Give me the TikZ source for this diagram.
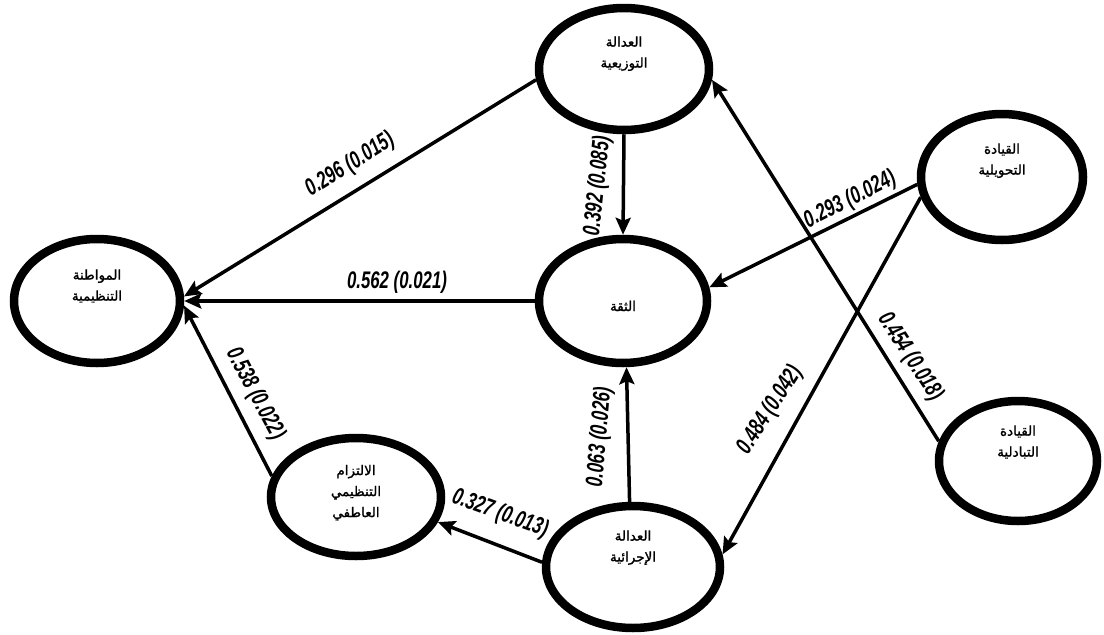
\documentclass[tikz,border=0pt]{standalone}
\usepackage{fontspec}
\setmainfont{Liberation Sans}
\newfontfamily\arabicfont[Script=Arabic,FakeBold=1.5]{DejaVu Sans}
\newfontfamily\numfont[FakeStretch=0.7]{Liberation Sans}
\TeXXeTstate=1
\usetikzlibrary{arrows.meta,shapes.geometric}
\newcommand{\ar}[1]{\beginR #1\endR}

\begin{document}
\begin{tikzpicture}[x=1pt,y=-1pt,
  construct/.style={ellipse,draw,line width=8.5pt,align=center,
    font=\arabicfont\fontsize{13.5}{21}\selectfont},
  link/.style={line width=3.5pt,-{Stealth[length=17pt,width=15pt,inset=3pt]}},
  coef/.style={font=\numfont\bfseries\itshape\fontsize{24}{24}\selectfont,inner sep=1pt}]
  \useasboundingbox (0,0) rectangle (1104,635);
  % constructs
  \node[construct,minimum width=170pt,minimum height=122pt,text depth=34pt] (tawzi) at (624,69) {\ar{العدالة}\\\ar{التوزيعية}};
  \node[construct,minimum width=168pt,minimum height=124pt,text height=24pt,text depth=4pt] (thiqa) at (623,301) {\ar{الثقة}};
  \node[construct,minimum width=166pt,minimum height=124pt,text depth=32pt] (muwatana) at (97,301) {\ar{المواطنة}\\\ar{التنظيمية}};
  \node[construct,minimum width=162pt,minimum height=126pt,text depth=36pt] (tahwili) at (1002,177) {\ar{القيادة}\\\ar{التحويلية}};
  \node[construct,minimum width=158pt,minimum height=120pt,text depth=40pt] (tabaduli) at (1018,461) {\ar{القيادة}\\\ar{التبادلية}};
  \node[construct,minimum width=174pt,minimum height=122pt,text depth=42pt] (ijrai) at (633,567) {\ar{العدالة}\\\ar{الإجرائية}};
  \node[construct,minimum width=170pt,minimum height=118pt,text depth=12pt] (iltizam) at (356,497) {\ar{الالتزام}\\\ar{التنظيمي}\\\ar{العاطفي}};
  % paths
  \draw[link] (tawzi.187) -- (muwatana.3);
  \draw[link] (tawzi.south) -- (thiqa.north);
  \draw[link] (thiqa.west) -- (muwatana.east);
  \draw[link] (tahwili.185) -- (thiqa.9);
  \draw[link] (tahwili.194) -- (ijrai.8);
  \draw[link] (tabaduli.166) -- (tawzi.353);
  \draw[link] (ijrai.93) -- (thiqa.273);
  \draw[link] (ijrai.177) -- (iltizam.343);
  \draw[link] (iltizam.166) -- (muwatana.357);
  % coefficients
  \node[coef,rotate=32] (c296) at (350,165) {0.296 (0.015)};
  \node[coef,rotate=84] (c392) at (598,186) {0.392 (0.085)};
  \node[coef] (c562) at (397,282) {0.562 (0.021)};
  \node[coef,rotate=27] (c293) at (850,200) {0.293 (0.024)};
  \node[coef,rotate=57] (c484) at (770,410) {0.484 (0.042)};
  \node[coef,rotate=-57] (c454) at (910,357) {0.454 (0.018)};
  \node[coef,rotate=85] (c063) at (600,437) {0.063 (0.026)};
  \node[coef,rotate=-20] (c327) at (500,514) {0.327 (0.013)};
  \node[coef,rotate=-62] (c538) at (255,394) {0.538 (0.022)};
\end{tikzpicture}
\end{document}
